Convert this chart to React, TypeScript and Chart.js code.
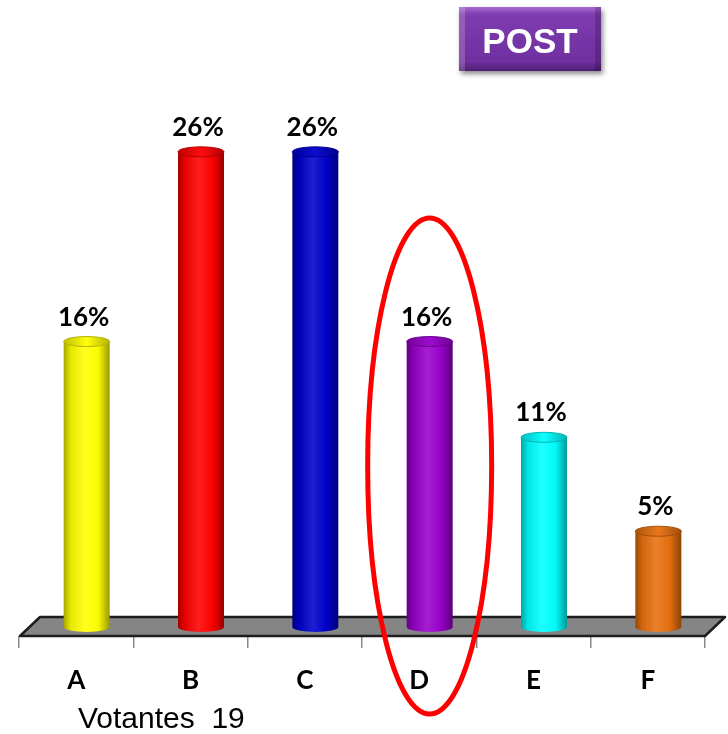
import React, { useEffect, useRef } from "react";
import { Chart, registerables } from "chart.js";

Chart.register(...registerables);

const categories = ["A", "B", "C", "D", "E", "F"];
const percentValues = [15.8, 26.3, 26.3, 15.8, 10.5, 5.3];
const percentLabels = ["16%", "26%", "26%", "16%", "11%", "5%"];
const barColors = ["#FFFF00", "#FF0000", "#0000CC", "#9900CC", "#00FFFF", "#E8700E"];
const voterCount = 19;
const badgeText = "POST";
const highlightIndex = 3;

const DEPTH_X = 10.5;
const DEPTH_Y = -9;

function shade(hex: string, amt: number): string {
  const n = parseInt(hex.slice(1), 16);
  let r = (n >> 16) & 255, g = (n >> 8) & 255, b = n & 255;
  if (amt >= 0) {
    r = r + (255 - r) * amt; g = g + (255 - g) * amt; b = b + (255 - b) * amt;
  } else {
    r = r * (1 + amt); g = g * (1 + amt); b = b * (1 + amt);
  }
  return `rgb(${Math.round(r)},${Math.round(g)},${Math.round(b)})`;
}

const floorPlugin = {
  id: "floor",
  beforeDatasetsDraw(chart: any) {
    const { ctx, chartArea } = chart;
    const l = chartArea.left, r = chartArea.right, b = chartArea.bottom;
    ctx.save();
    ctx.beginPath();
    ctx.moveTo(l + 1, b);
    ctx.lineTo(l + 21, b - 19);
    ctx.lineTo(r + 20, b - 19);
    ctx.lineTo(r, b);
    ctx.closePath();
    ctx.fillStyle = "#858585";
    ctx.fill();
    ctx.lineWidth = 2.5;
    ctx.strokeStyle = "#1e1e1e";
    ctx.lineJoin = "round";
    ctx.stroke();
    ctx.restore();
  },
};

const cylinderPlugin = {
  id: "cylinders",
  afterDatasetsDraw(chart: any) {
    const { ctx } = chart;
    const meta = chart.getDatasetMeta(0);
    meta.data.forEach((bar: any, i: number) => {
      const color = barColors[i];
      const cx = bar.x + DEPTH_X;
      const top = bar.y + DEPTH_Y;
      const base = bar.base + DEPTH_Y;
      const w = 46;
      const rx = w / 2;
      const ry = 5;
      const left = cx - rx;
      ctx.save();
      const g = ctx.createLinearGradient(left, 0, left + w, 0);
      g.addColorStop(0, shade(color, -0.35));
      g.addColorStop(0.15, shade(color, -0.1));
      g.addColorStop(0.45, shade(color, 0.12));
      g.addColorStop(0.75, shade(color, -0.02));
      g.addColorStop(1, shade(color, -0.4));
      ctx.beginPath();
      ctx.moveTo(left, top);
      ctx.lineTo(left, base);
      ctx.ellipse(cx, base, rx, ry, 0, Math.PI, 0, true);
      ctx.lineTo(left + w, top);
      ctx.closePath();
      ctx.fillStyle = g;
      ctx.fill();
      // top cap
      ctx.beginPath();
      ctx.ellipse(cx, top, rx, ry, 0, 0, Math.PI * 2);
      const g2 = ctx.createLinearGradient(left, 0, left + w, 0);
      g2.addColorStop(0, shade(color, -0.25));
      g2.addColorStop(0.5, shade(color, 0.05));
      g2.addColorStop(1, shade(color, -0.3));
      ctx.fillStyle = g2;
      ctx.fill();
      ctx.lineWidth = 1;
      ctx.strokeStyle = shade(color, -0.3);
      ctx.stroke();
      // value label
      ctx.fillStyle = "#000000";
      ctx.font = "bold 26px Lato, 'Open Sans', sans-serif";
      ctx.textAlign = "center";
      ctx.textBaseline = "alphabetic";
      ctx.fillText(percentLabels[i], cx - 3, top - 16);
      ctx.restore();
    });
  },
};

const overlayPlugin = {
  id: "overlay",
  afterDraw(chart: any) {
    const { ctx } = chart;
    const xs = chart.scales.x;
    ctx.save();
    // highlight ellipse
    const ex = xs.getPixelForValue(highlightIndex) + DEPTH_X;
    ctx.beginPath();
    ctx.ellipse(ex, 466, 62, 248, 0, 0, Math.PI * 2);
    ctx.lineWidth = 5;
    ctx.strokeStyle = "#FF0000";
    ctx.stroke();

    // POST badge
    const bx = 459, by = 7, bw = 142, bh = 64;
    ctx.save();
    ctx.shadowColor = "rgba(0,0,0,0.45)";
    ctx.shadowBlur = 5;
    ctx.shadowOffsetX = 2;
    ctx.shadowOffsetY = 3;
    ctx.fillStyle = "#6E2C9E";
    ctx.fillRect(bx, by, bw, bh);
    ctx.restore();
    const bg = ctx.createLinearGradient(0, by, 0, by + bh);
    bg.addColorStop(0, "#A56AD2");
    bg.addColorStop(0.12, "#7E3CB0");
    bg.addColorStop(0.85, "#7030A0");
    bg.addColorStop(1, "#4E1F73");
    ctx.fillStyle = bg;
    ctx.fillRect(bx, by, bw, bh);
    ctx.fillStyle = "rgba(255,255,255,0.18)";
    ctx.fillRect(bx, by, 6, bh);
    ctx.fillStyle = "rgba(0,0,0,0.18)";
    ctx.fillRect(bx + bw - 6, by, 6, bh);
    ctx.fillStyle = "#FFFFFF";
    ctx.font = "bold 35px 'Liberation Sans', Arial, sans-serif";
    ctx.textAlign = "center";
    ctx.textBaseline = "alphabetic";
    ctx.fillText(badgeText, bx + bw / 2, 53);

    // voter count
    ctx.fillStyle = "#000000";
    ctx.font = "30px 'Liberation Sans', Arial, sans-serif";
    ctx.textAlign = "left";
    ctx.fillText(`Votantes  ${voterCount}`, 78, 728);
    ctx.restore();
  },
};

export default function App() {
  const ref = useRef<HTMLCanvasElement | null>(null);
  useEffect(() => {
    if (!ref.current) return;
    const chart = new Chart(ref.current, {
      type: "bar",
      data: {
        labels: categories,
        datasets: [
          {
            data: percentValues,
            backgroundColor: "rgba(0,0,0,0)",
            borderWidth: 0,
            barPercentage: 0.4,
            categoryPercentage: 1,
          },
        ],
      },
      options: {
        animation: false,
        responsive: false,
        maintainAspectRatio: false,
        layout: { padding: { left: 19, right: 23, top: 94, bottom: 0 } },
        plugins: { legend: { display: false }, tooltip: { enabled: false }, title: { display: false } },
        scales: {
          y: { display: false, min: 0, max: 30 },
          x: {
            display: true,
            offset: true,
            afterFit: (scale: any) => {
              scale.height = 98;
            },
            border: { display: false },
            grid: {
              display: true,
              offset: true,
              drawOnChartArea: false,
              drawTicks: true,
              tickLength: 12,
              color: "#8a8a8a",
              lineWidth: 1.5,
            },
            ticks: {
              color: "#000000",
              font: { family: "Lato, 'Open Sans', sans-serif", size: 26, weight: "bold" },
              padding: 17,
            },
          },
        },
      },
      plugins: [floorPlugin, cylinderPlugin, overlayPlugin],
    });
    return () => chart.destroy();
  }, []);
  return (
    <div style={{ position: "fixed", left: 0, top: 0, width: 728, height: 734, background: "#fff" }}>
      <canvas ref={ref} width={728} height={734} style={{ width: 728, height: 734 }} />
    </div>
  );
}
